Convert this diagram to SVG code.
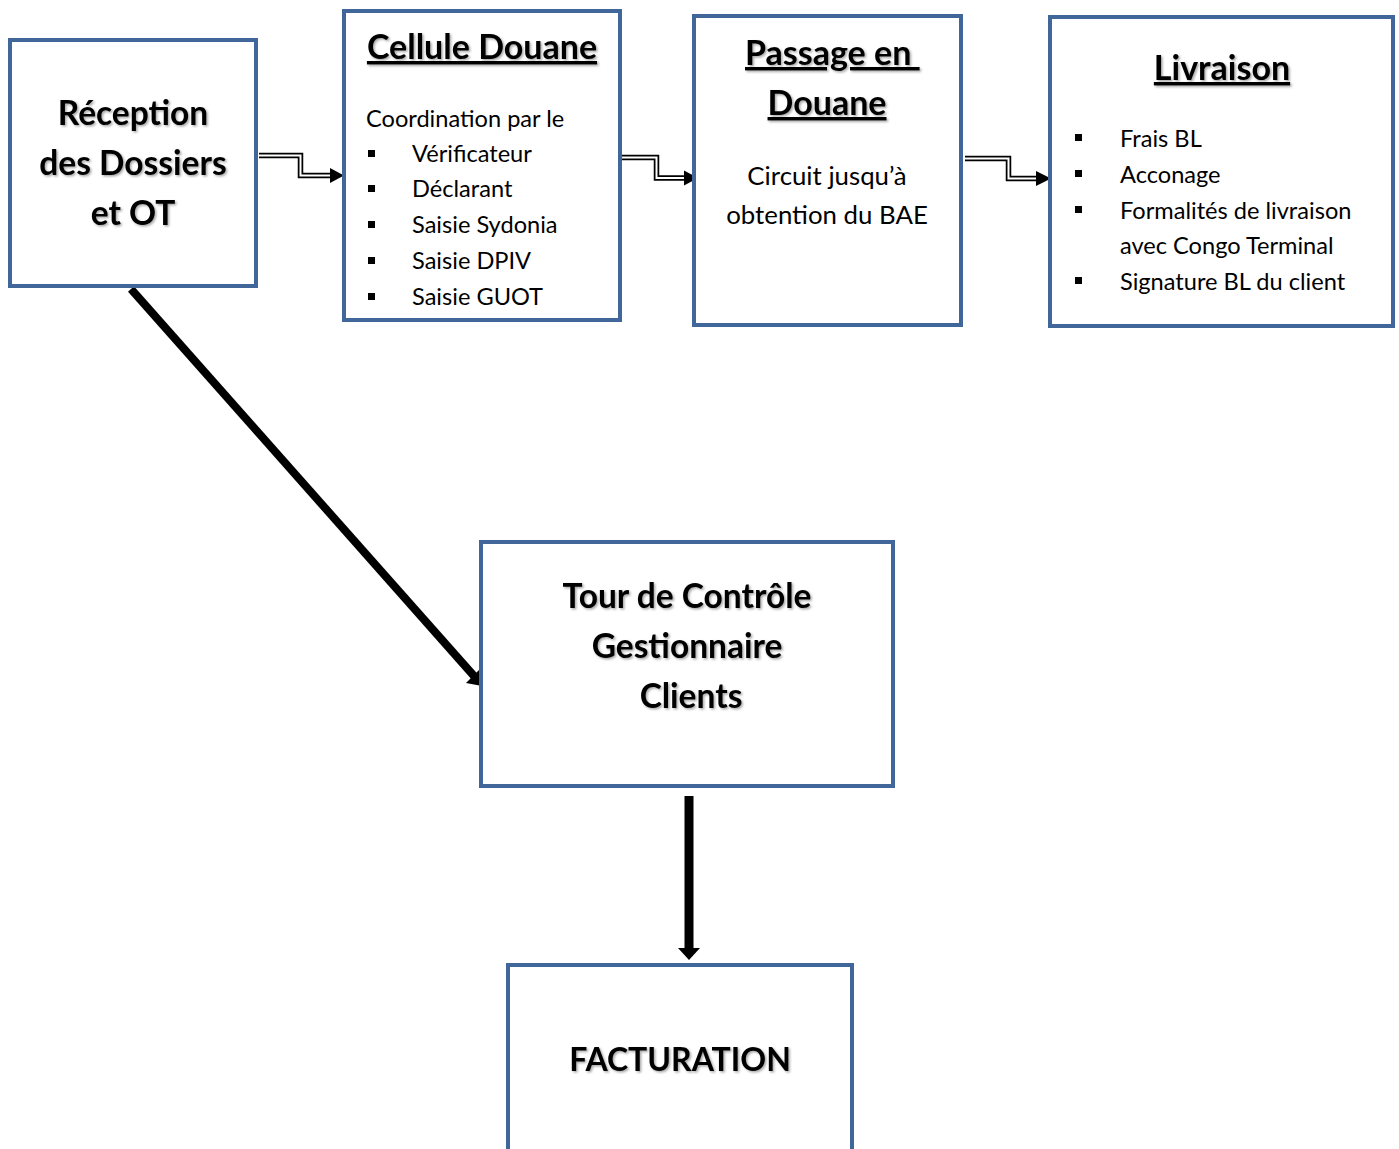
<svg xmlns="http://www.w3.org/2000/svg" width="1399" height="1149" viewBox="0 0 1399 1149">
<style>
.box{fill:#fff;stroke:#41679A;stroke-width:4}
.t{font-family:Lato,"Open Sans","Liberation Sans",sans-serif;fill:#000}
.b{font-weight:bold}
.u{text-decoration:underline}
.c{text-anchor:middle}
.big{font-size:33.5px}
.hd{font-size:34px}
.sm{font-size:23.6px}
.md{font-size:25.8px}
.sh{filter:url(#shadow)}
.dbl{fill:none;stroke:#000;stroke-width:5.5}
.dbli{fill:none;stroke:#fff;stroke-width:2}
</style>
<defs>
<filter id="shadow" x="-10%" y="-20%" width="120%" height="140%">
<feDropShadow dx="1.5" dy="1.5" stdDeviation="1" flood-color="#000" flood-opacity="0.35"/>
</filter>
</defs>
<rect width="1399" height="1149" fill="#fff"/>

<g id="connectors">
<path class="dbl" d="M259,155.5 H300.5 V175.5 H332"/>
<path class="dbli" d="M259,155.5 H300.5 V175.5 H332"/>
<polygon points="330,168 344,175.5 330,183"/>
<path class="dbl" d="M622,157.5 H656.5 V178 H686"/>
<path class="dbli" d="M622,157.5 H656.5 V178 H686"/>
<polygon points="684,170.5 698,178 684,185.5"/>
<path class="dbl" d="M965,158.5 H1008.5 V178.5 H1038"/>
<path class="dbli" d="M965,158.5 H1008.5 V178.5 H1038"/>
<polygon points="1036,171 1051,178.5 1036,186"/>
<line x1="131" y1="289" x2="474" y2="676" stroke="#000" stroke-width="8"/>
<polygon points="466,683 482,686 480,669"/>
<line x1="689" y1="796" x2="689" y2="948" stroke="#000" stroke-width="9"/>
<polygon points="678,948 700,948 689,960"/>
</g>

<g id="reception">
<rect class="box" x="10" y="40" width="246" height="246"/>
<text class="t b big c sh" x="133" y="125">Réception</text>
<text class="t b big c sh" x="133" y="175">des Dossiers</text>
<text class="t b big c sh" x="133" y="225">et OT</text>
</g>

<g id="cellule">
<rect class="box" x="344" y="11" width="276" height="309"/>
<text class="t b hd c u sh" x="482" y="59">Cellule Douane</text>
<text class="t sm" x="366" y="127">Coordination par le</text>
<g class="t sm">
<rect x="368" y="150" width="7" height="7"/>
<rect x="368" y="185" width="7" height="7"/>
<rect x="368" y="221" width="7" height="7"/>
<rect x="368" y="257" width="7" height="7"/>
<rect x="368" y="293" width="7" height="7"/>
<text x="412" y="162">Vérificateur</text>
<text x="412" y="197">Déclarant</text>
<text x="412" y="233">Saisie Sydonia</text>
<text x="412" y="269">Saisie DPIV</text>
<text x="412" y="305">Saisie GUOT</text>
</g>
</g>

<g id="passage">
<rect class="box" x="694" y="16" width="267" height="309"/>
<text class="t b hd u sh" x="745" y="65">Passage en&#160;</text>
<text class="t b hd c u sh" x="827" y="115">Douane</text>
<text class="t md c" x="827" y="185">Circuit jusqu’à</text>
<text class="t md c" x="827" y="224">obtention du BAE</text>
</g>

<g id="livraison">
<rect class="box" x="1050" y="17" width="343" height="309"/>
<text class="t b hd c u sh" x="1222" y="80">Livraison</text>
<g class="t sm">
<rect x="1075" y="134" width="7" height="7"/>
<rect x="1075" y="170" width="7" height="7"/>
<rect x="1075" y="206" width="7" height="7"/>
<rect x="1075" y="277" width="7" height="7"/>
<text x="1120" y="147">Frais BL</text>
<text x="1120" y="183">Acconage</text>
<text x="1120" y="219">Formalités de livraison</text>
<text x="1120" y="254">avec Congo Terminal</text>
<text x="1120" y="290">Signature BL du client</text>
</g>
</g>

<g id="tour">
<rect class="box" x="481" y="542" width="412" height="244"/>
<text class="t b big c sh" x="687" y="608">Tour de Contrôle</text>
<text class="t b big c sh" x="687" y="658">Gestionnaire</text>
<text class="t b big c sh" x="691" y="708">Clients</text>
</g>

<g id="facturation">
<rect class="box" x="508" y="965" width="344" height="200"/>
<text class="t b c sh" style="font-size:32px" x="680" y="1071">FACTURATION</text>
</g>
</svg>
